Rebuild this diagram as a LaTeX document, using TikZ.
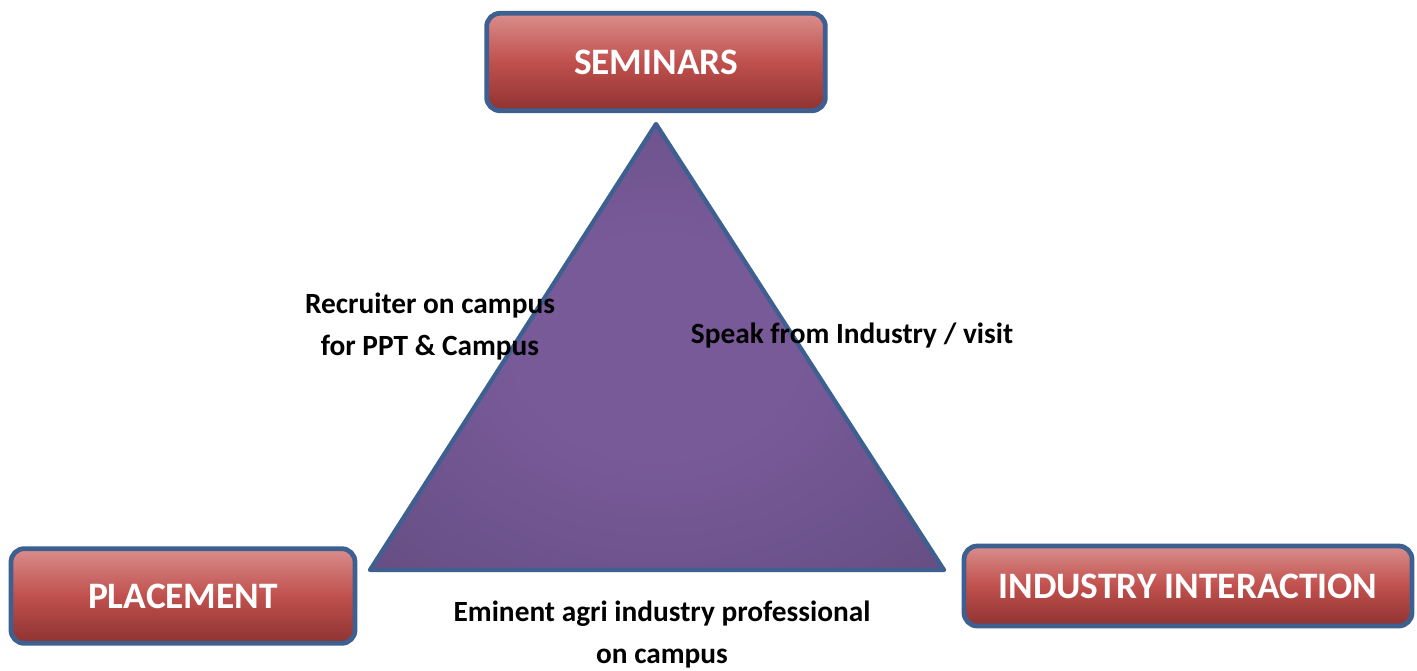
\documentclass[tikz,border=0pt]{standalone}
\usepackage{fontspec}
\setmainfont{Carlito}
\usetikzlibrary{shadings}

\definecolor{boxTop}{HTML}{D98E8C}
\definecolor{boxMid}{HTML}{C0504D}
\definecolor{boxBottom}{HTML}{8E3331}
\definecolor{frameBlue}{HTML}{3D6090}
\definecolor{triLight}{HTML}{785A99}
\definecolor{triDark}{HTML}{5C4878}
\pgfdeclareradialshading{triShade}{\pgfpoint{0bp}{0bp}}{color(0bp)=(triLight); color(12bp)=(triLight); color(48bp)=(triDark); color(80bp)=(triDark)}

\begin{document}
\begin{tikzpicture}[x=0.75pt, y=-0.75pt]
	\tikzstyle{label} = [font=\bfseries\fontsize{22}{31.5}\selectfont, align=center, text=black]
	\tikzstyle{topic} = [rectangle, rounded corners=10pt, draw=frameBlue, line width=3.6pt, top color=boxTop, bottom color=boxBottom, middle color=boxMid, text=white, font=\bfseries\fontsize{28}{32}\selectfont, inner sep=0pt]
	\useasboundingbox (0,0) rectangle (1417,671);
	% triangle corners
	\coordinate (apex) at (656,124);
	\coordinate (left) at (370,570);
	\coordinate (right) at (944,570);
	\draw[frameBlue, line width=3.2pt, line join=round, shading=triShade] (apex) -- (right) -- (left) -- cycle;
	% the three boxes
	\node[topic, minimum width=254pt, minimum height=73pt] (seminars) at (656,62) {SEMINARS};
	\node[topic, minimum width=258pt, minimum height=71pt] (placement) at (183,596) {PLACEMENT};
	\node[topic, minimum width=336pt, minimum height=60pt] (industry) at (1188,586) {INDUSTRY INTERACTION};
	% texts
	\node[label] (recruiter) at (430,327) {Recruiter on campus\\ for PPT \& Campus};
	\node[label] (speak) at (852,336) {Speak from Industry / visit};
	\node[label] (eminent) at (662,635) {Eminent agri industry professional\\ on campus};
\end{tikzpicture}
\end{document}
